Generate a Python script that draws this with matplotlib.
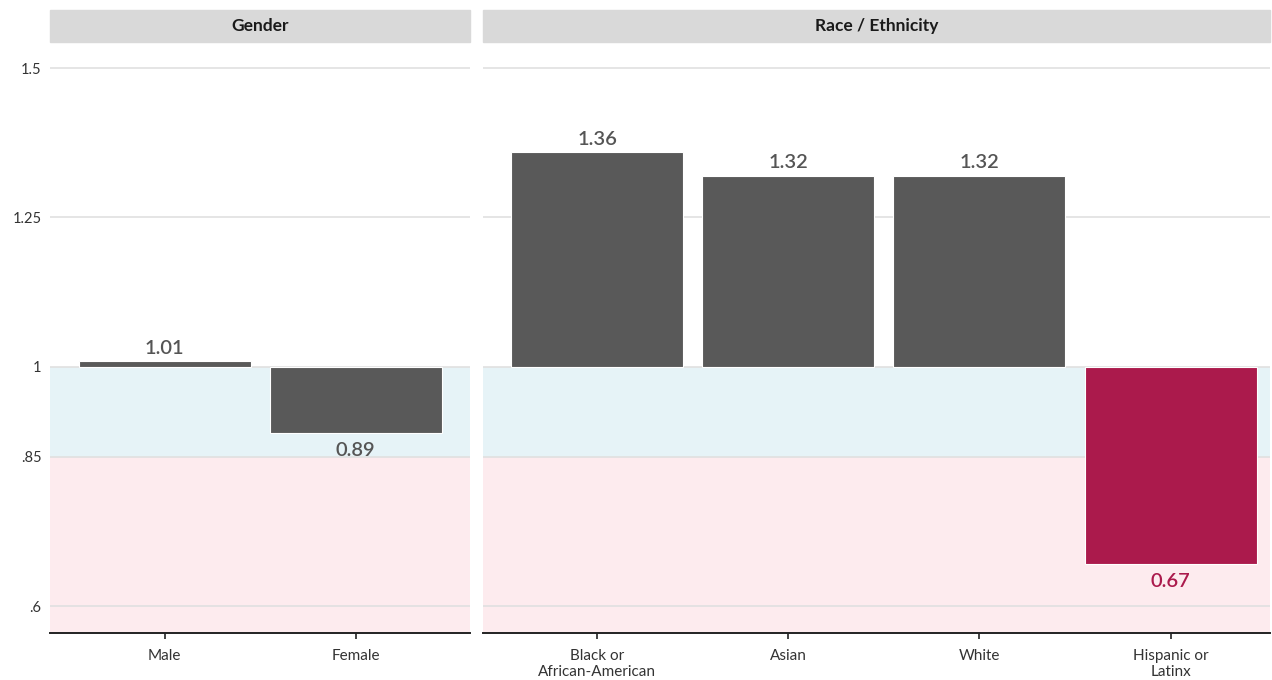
import matplotlib.pyplot as plt

plt.rcParams['font.family'] = ['Lato', 'DejaVu Sans']

# data
gender_cats = ["Male", "Female"]
gender_vals = [1.01, 0.89]
race_cats = ["Black or\nAfrican-American", "Asian", "White", "Hispanic or\nLatinx"]
race_vals = [1.36, 1.32, 1.32, 0.67]
panels = ["Gender", "Race / Ethnicity"]

yticks = [0.6, 0.85, 1.0, 1.25, 1.5]
ytick_labels = [".6", ".85", "1", "1.25", "1.5"]

grey = "#595959"
red = "#ab1a4c"
threshold = 0.85
baseline = 1.0

xlims = [(0.4, 2.6), (0.4, 4.52)]

fig = plt.figure(figsize=(12.72, 6.8), dpi=100)
gs = fig.add_gridspec(1, 2, width_ratios=[x1 - x0 for x0, x1 in xlims],
                      left=50 / 1272, right=1270 / 1272,
                      top=1 - 42 / 680, bottom=1 - 633 / 680, wspace=0.02)

data = [(gender_cats, gender_vals), (race_cats, race_vals)]
for i, (cats, vals) in enumerate(data):
    ax = fig.add_subplot(gs[0, i])
    n = len(cats)
    ax.set_xlim(*xlims[i])
    ax.set_ylim(0.555, 1.5435)

    # background bands
    ax.axhspan(threshold, baseline, color="#e6f3f7", zorder=0, lw=0)
    ax.axhspan(0, threshold, color="#fdebee", zorder=0, lw=0)
    for t in yticks:
        ax.axhline(t, color="#e0e0e0", lw=1.2, zorder=1)

    xs = list(range(1, n + 1))
    for x, v in zip(xs, vals):
        col = red if v < threshold else grey
        ax.bar(x, v - baseline, bottom=baseline, width=0.9, color=col,
               edgecolor="white", linewidth=0.8, zorder=2)
        txtcol = red if v < threshold else "#555555"
        if v >= baseline:
            ax.text(x, v + 0.007, f"{v:.2f}", ha="center", va="bottom",
                    fontsize=14.5, fontweight="semibold", color=txtcol)
        else:
            ax.text(x, v - 0.015, f"{v:.2f}", ha="center", va="top",
                    fontsize=14.5, fontweight="semibold", color=txtcol)

    ax.set_xticks(xs)
    ax.set_xticklabels(cats, fontsize=11, color="#333333", linespacing=1.2)
    ax.set_yticks(yticks)
    if i == 0:
        ax.set_yticklabels(ytick_labels, fontsize=10.5, color="#333333")
    else:
        ax.set_yticklabels([])
    ax.tick_params(axis="y", length=0, pad=6)
    ax.tick_params(axis="x", length=4, width=1.2, color="#222222", pad=7.5)
    for s in ["top", "right", "left"]:
        ax.spines[s].set_visible(False)
    ax.spines["bottom"].set_color("#222222")
    ax.spines["bottom"].set_linewidth(1.4)
    ax.set_facecolor("white")

    # strip header
    pos = ax.get_position()
    strip_h = 32 / 680
    fig.patches.append(plt.Rectangle((pos.x0, pos.y1), pos.width, strip_h,
                                     transform=fig.transFigure, color="#d9d9d9",
                                     zorder=0))
    fig.text(pos.x0 + pos.width / 2, pos.y1 + strip_h / 2, panels[i],
             ha="center", va="center", fontsize=12.5, fontweight="bold",
             color="#1a1a1a")

fig.savefig("out.png", dpi=100, facecolor="white")
